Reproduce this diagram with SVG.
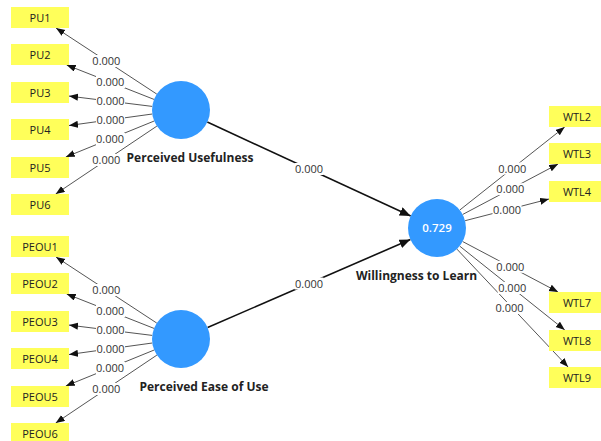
<svg xmlns="http://www.w3.org/2000/svg" width="601" height="441" viewBox="0 0 601 441">
<style>
.box{fill:#FFFF5A}
.bt{font-family:"Open Sans","Noto Sans",sans-serif;font-size:11px;fill:#222;text-anchor:middle}
.lv{fill:#3399FF}
.nl{font-family:"Open Sans","Noto Sans",sans-serif;font-size:12px;font-weight:bold;fill:#222;text-anchor:middle}
.ind{stroke:#555;stroke-width:1;fill:none;marker-end:url(#ah)}
.str{stroke:#111;stroke-width:1.6;fill:none;marker-end:url(#ah2)}
.lb{fill:#fff}
.lt{font-family:"Open Sans","Noto Sans",sans-serif;font-size:11px;fill:#333;text-anchor:middle}
</style>
<defs>
<marker id="ah" markerUnits="userSpaceOnUse" markerWidth="10" markerHeight="8" refX="9" refY="3.5" orient="auto"><path d="M0,0 L9,3.5 L0,7 z" fill="#111"/></marker>
<marker id="ah2" markerUnits="userSpaceOnUse" markerWidth="12" markerHeight="10" refX="11" refY="4.5" orient="auto"><path d="M0,0 L11,4.5 L0,9 z" fill="#111"/></marker>
</defs>
<rect width="601" height="441" fill="#fff"/>
<g id="connectors">
<line class="ind" x1="156.8" y1="94.1" x2="56" y2="28"/>
<line class="ind" x1="154" y1="99.4" x2="66.7" y2="65"/>
<line class="ind" x1="152.2" y1="106.4" x2="69" y2="96.1"/>
<line class="ind" x1="152.3" y1="114" x2="69" y2="125.5"/>
<line class="ind" x1="154.2" y1="121" x2="65.8" y2="157"/>
<line class="ind" x1="156.9" y1="126.1" x2="55.7" y2="194"/>
<line class="ind" x1="156.8" y1="323.1" x2="56" y2="257"/>
<line class="ind" x1="154" y1="328.4" x2="66.7" y2="294"/>
<line class="ind" x1="152.2" y1="335.4" x2="69" y2="325.1"/>
<line class="ind" x1="152.3" y1="343" x2="69" y2="354.5"/>
<line class="ind" x1="154.2" y1="350" x2="65.8" y2="386"/>
<line class="ind" x1="156.9" y1="355.1" x2="55.7" y2="423"/>
<line class="ind" x1="459.8" y1="210" x2="564.7" y2="127"/>
<line class="ind" x1="462.6" y1="214.5" x2="558.1" y2="164"/>
<line class="ind" x1="465.1" y1="220.7" x2="549" y2="199"/>
<line class="ind" x1="462.6" y1="241.5" x2="558.1" y2="292"/>
<line class="ind" x1="459.7" y1="246.1" x2="564.8" y2="330"/>
<line class="ind" x1="456.9" y1="249.1" x2="568.1" y2="367"/>
<line class="str" x1="207.3" y1="122.1" x2="410.7" y2="215.9"/>
<line class="str" x1="207.6" y1="327.5" x2="410.4" y2="239.5"/>
<g>
<rect class="lb" x="92" y="55" width="29" height="12"/><text class="lt" x="106.4" y="65">0.000</text>
<rect class="lb" x="96" y="76" width="29" height="12"/><text class="lt" x="110.4" y="86">0.000</text>
<rect class="lb" x="96" y="95" width="29" height="12"/><text class="lt" x="110.6" y="105">0.000</text>
<rect class="lb" x="96" y="114" width="29" height="12"/><text class="lt" x="110.6" y="123.5">0.000</text>
<rect class="lb" x="96" y="133" width="29" height="12"/><text class="lt" x="110" y="143">0.000</text>
<rect class="lb" x="92" y="154" width="29" height="12"/><text class="lt" x="106.3" y="164">0.000</text>
<rect class="lb" x="92" y="284" width="29" height="12"/><text class="lt" x="106.4" y="294">0.000</text>
<rect class="lb" x="96" y="305" width="29" height="12"/><text class="lt" x="110.4" y="315">0.000</text>
<rect class="lb" x="96" y="324" width="29" height="12"/><text class="lt" x="110.6" y="334">0.000</text>
<rect class="lb" x="96" y="343" width="29" height="12"/><text class="lt" x="110.6" y="352.5">0.000</text>
<rect class="lb" x="96" y="362" width="29" height="12"/><text class="lt" x="110" y="372">0.000</text>
<rect class="lb" x="92" y="383" width="29" height="12"/><text class="lt" x="106.3" y="393">0.000</text>
<rect class="lb" x="294.5" y="163" width="29" height="12"/><text class="lt" x="309" y="173">0.000</text>
<rect class="lb" x="294.5" y="277.5" width="29" height="12"/><text class="lt" x="309" y="287.5">0.000</text>
<rect class="lb" x="497.7" y="162.5" width="29" height="12"/><text class="lt" x="512.2" y="172.5">0.000</text>
<rect class="lb" x="495.9" y="183.2" width="29" height="12"/><text class="lt" x="510.4" y="193.2">0.000</text>
<rect class="lb" x="492.5" y="204" width="29" height="12"/><text class="lt" x="507" y="214">0.000</text>
<rect class="lb" x="495.9" y="260.8" width="29" height="12"/><text class="lt" x="510.4" y="270.8">0.000</text>
<rect class="lb" x="497.7" y="282" width="29" height="12"/><text class="lt" x="512.2" y="292">0.000</text>
<rect class="lb" x="495" y="302" width="29" height="12"/><text class="lt" x="509.5" y="312">0.000</text>
</g>
</g>
<g id="PU1"><rect class="box" x="11" y="7" width="58" height="21"/><text class="bt" x="40" y="21.5">PU1</text></g>
<g id="PU2"><rect class="box" x="11" y="44" width="58" height="21"/><text class="bt" x="40" y="58.5">PU2</text></g>
<g id="PU3"><rect class="box" x="11" y="82" width="58" height="21"/><text class="bt" x="40" y="96.5">PU3</text></g>
<g id="PU4"><rect class="box" x="11" y="119" width="58" height="21"/><text class="bt" x="40" y="133.5">PU4</text></g>
<g id="PU5"><rect class="box" x="11" y="157" width="58" height="21"/><text class="bt" x="40" y="171.5">PU5</text></g>
<g id="PU6"><rect class="box" x="11" y="194" width="58" height="21"/><text class="bt" x="40" y="208.5">PU6</text></g>
<g id="PEOU1"><rect class="box" x="11" y="236" width="58" height="21"/><text class="bt" x="40" y="250.5">PEOU1</text></g>
<g id="PEOU2"><rect class="box" x="11" y="273" width="58" height="21"/><text class="bt" x="40" y="287.5">PEOU2</text></g>
<g id="PEOU3"><rect class="box" x="11" y="311" width="58" height="21"/><text class="bt" x="40" y="325.5">PEOU3</text></g>
<g id="PEOU4"><rect class="box" x="11" y="348" width="58" height="21"/><text class="bt" x="40" y="362.5">PEOU4</text></g>
<g id="PEOU5"><rect class="box" x="11" y="386" width="58" height="21"/><text class="bt" x="40" y="400.5">PEOU5</text></g>
<g id="PEOU6"><rect class="box" x="11" y="423" width="58" height="21"/><text class="bt" x="40" y="437.5">PEOU6</text></g>
<g id="WTL2"><rect class="box" x="549" y="106" width="58" height="21"/><text class="bt" x="577" y="120.5">WTL2</text></g>
<g id="WTL3"><rect class="box" x="549" y="143" width="58" height="21"/><text class="bt" x="577" y="157.5">WTL3</text></g>
<g id="WTL4"><rect class="box" x="549" y="181" width="58" height="21"/><text class="bt" x="577" y="195.5">WTL4</text></g>
<g id="WTL7"><rect class="box" x="549" y="292" width="58" height="21"/><text class="bt" x="577" y="306.5">WTL7</text></g>
<g id="WTL8"><rect class="box" x="549" y="330" width="58" height="21"/><text class="bt" x="577" y="344.5">WTL8</text></g>
<g id="WTL9"><rect class="box" x="549" y="367" width="58" height="21"/><text class="bt" x="577" y="381.5">WTL9</text></g>
<g id="PU"><circle class="lv" cx="181" cy="110" r="29"/><text class="nl" x="190" y="162">Perceived Usefulness</text></g>
<g id="PEOU"><circle class="lv" cx="181" cy="339" r="29"/><text class="nl" x="204" y="391">Perceived Ease of Use</text></g>
<g id="WTL"><circle class="lv" cx="437" cy="228" r="29"/><text x="437" y="232" style="font-family:'Open Sans','Noto Sans',sans-serif;font-size:11.5px;font-weight:600;fill:#fff;text-anchor:middle">0.729</text><text class="nl" x="416.5" y="280">Willingness to Learn</text></g>
</svg>
